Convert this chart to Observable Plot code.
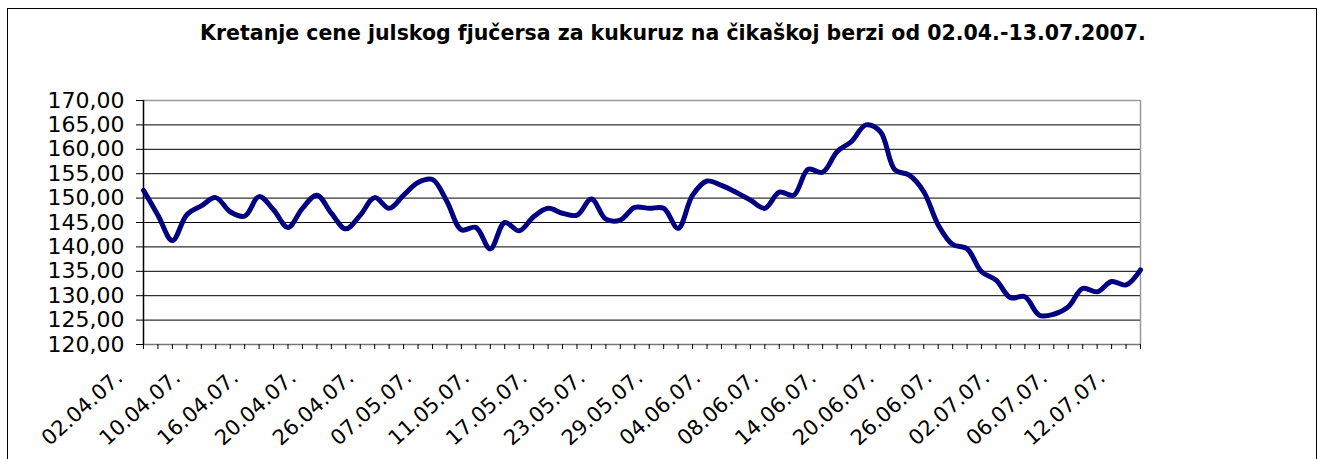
<!DOCTYPE html>
<html><head><meta charset="utf-8">
<script src="https://cdn.jsdelivr.net/npm/d3@7"></script>
<script src="https://cdn.jsdelivr.net/npm/@observablehq/plot@0.6"></script>
<style>
body{margin:0;background:#fff;width:1318px;height:459px;overflow:hidden;position:relative;font-family:"DejaVu Sans",sans-serif}
#frame{position:absolute;left:7px;top:8px;width:1310px;height:470px;border:1.5px solid #000;box-sizing:border-box}
#title{position:absolute;left:0;top:21px;width:1346px;text-align:center;font:bold 20.5px "DejaVu Sans",sans-serif;color:#000;white-space:nowrap}
#chart{position:absolute;left:0;top:60px}
</style></head><body>
<div id="frame"></div>
<div id="title">Kretanje cene julskog fjučersa za kukuruz na čikaškoj berzi od 02.04.-13.07.2007.</div>
<div id="chart"></div>
<script>
const dates = [
 "02.04.07.","03.04.07.","04.04.07.","09.04.07.",
 "10.04.07.","11.04.07.","12.04.07.","13.04.07.",
 "16.04.07.","17.04.07.","18.04.07.","19.04.07.",
 "20.04.07.","23.04.07.","24.04.07.","25.04.07.",
 "26.04.07.","27.04.07.","30.04.07.","03.05.07.",
 "07.05.07.","08.05.07.","09.05.07.","10.05.07.",
 "11.05.07.","14.05.07.","15.05.07.","16.05.07.",
 "17.05.07.","18.05.07.","21.05.07.","22.05.07.",
 "23.05.07.","24.05.07.","25.05.07.","28.05.07.",
 "29.05.07.","30.05.07.","31.05.07.","01.06.07.",
 "04.06.07.","05.06.07.","06.06.07.","07.06.07.",
 "08.06.07.","11.06.07.","12.06.07.","13.06.07.",
 "14.06.07.","15.06.07.","18.06.07.","19.06.07.",
 "20.06.07.","21.06.07.","22.06.07.","25.06.07.",
 "26.06.07.","27.06.07.","28.06.07.","29.06.07.",
 "02.07.07.","03.07.07.","04.07.07.","05.07.07.",
 "06.07.07.","09.07.07.","10.07.07.","11.07.07.",
 "12.07.07.","13.07.07."
];
const prices = [
 151.6,146.5,141.3,146.6,
 148.4,150.1,147.2,146.3,
 150.3,147.6,144.0,147.9,
 150.6,146.9,143.7,146.5,
 150.1,147.9,150.6,153.2,
 153.8,149.3,143.5,144.0,
 139.6,145.0,143.3,146.2,
 147.9,146.9,146.5,149.8,
 145.7,145.5,148.1,147.9,
 147.9,143.8,150.6,153.5,
 152.6,151.2,149.6,147.9,
 151.2,150.6,155.9,155.3,
 159.5,161.6,165.0,163.6,
 155.8,154.7,151.3,144.5,
 140.5,139.6,134.9,133.2,
 129.6,129.8,126.0,126.2,
 127.7,131.5,130.8,132.9,
 132.2,135.3
];
const yTicks = [120,125,130,135,140,145,150,155,160,165,170];
const labelDates = dates.filter((d, i) => i % 4 === 0);
const data = dates.map((d, i) => ({date: d, price: prices[i]}));
const fmt = v => v.toFixed(2).replace(".", ",");

const chart = Plot.plot({
  width: 1318, height: 399,
  marginTop: 40, marginLeft: 143, marginRight: 178, marginBottom: 115,
  style: {fontFamily: "DejaVu Sans, sans-serif", fontSize: "20px", color: "#000", background: "transparent", overflow: "visible"},
  x: {type: "point", domain: dates, padding: 0},
  y: {domain: [120, 170]},
  marks: [
    Plot.gridY(yTicks.slice(1, -1), {stroke: "#000", strokeOpacity: 1, strokeWidth: 1}),
    Plot.ruleY([170], {stroke: "#999", strokeWidth: 1.5}),
    Plot.ruleX([dates[dates.length - 1]], {stroke: "#999", strokeWidth: 1.5}),
    Plot.ruleY([120], {stroke: "#777", strokeWidth: 1.5}),
    Plot.ruleX([dates[0]], {stroke: "#000", strokeWidth: 1.5}),
    Plot.axisY(yTicks, {tickSize: 7, tickPadding: 12, tickFormat: fmt, fontSize: 22, label: null, stroke: "#000"}),
    Plot.axisX(dates, {tickSize: 5, tickFormat: () => "", label: null, stroke: "#000"}),
    Plot.axisX(labelDates, {tickSize: 0, tickPadding: 30, dx: -24, tickRotate: -42, fontSize: 21, label: null}),
    Plot.line(data, {x: "date", y: "price", stroke: "#000080", strokeWidth: 5, curve: "catmull-rom"})
  ]
});
document.getElementById("chart").appendChild(chart);
</script>
</body></html>
